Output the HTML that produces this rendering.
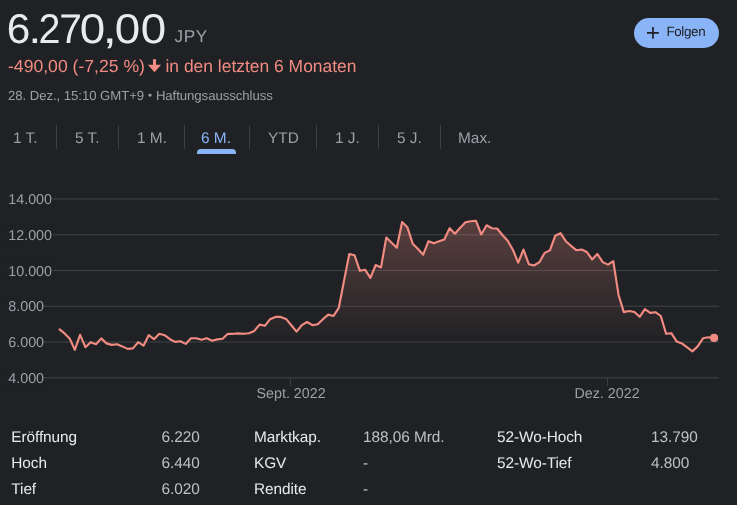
<!DOCTYPE html>
<html lang="de">
<head>
<meta charset="utf-8">
<title>Kursverlauf</title>
<style>
*{margin:0;padding:0;box-sizing:border-box}
html,body{width:737px;height:505px;background:#202124;overflow:hidden}
body{position:relative;font-family:"Liberation Sans",sans-serif;color:#e8eaed;text-rendering:geometricPrecision}
.abs{position:absolute;white-space:nowrap;line-height:1}
.price{left:0;top:8px;font-size:41.6px;color:#e8eaed;width:180px;height:40px}
.price span{display:inline-block;transform-origin:50% 50%}
.cur{left:174.6px;top:28px;font-size:17.2px;color:#9aa0a6;letter-spacing:0.6px}
.chg{left:8px;top:58px;font-size:17.6px;color:#f28b82}
.chg2{left:165.5px;top:58px;font-size:17.45px;color:#f28b82}
.arrow{position:absolute;left:147px;top:58px}
.time{left:8px;top:89px;font-size:13.2px;color:#9aa0a6;letter-spacing:-0.065px}
.time b{font-weight:normal;display:inline-block;width:4.6px;text-align:center;font-size:11.5px;vertical-align:0.8px;letter-spacing:0}
.follow{left:634px;top:18px;width:85px;height:30px;border-radius:15px;background:#8ab4f8;color:#202124;font-size:13.4px;letter-spacing:-0.35px}
.follow svg{position:absolute;left:13px;top:9px}
.follow span{position:absolute;left:32.4px;top:7px;transform:translateY(0.2px)}
.tab{top:131px;font-size:15.4px;color:#9aa0a6;letter-spacing:0}
.tab.sel{color:#8ab4f8}
.sep{position:absolute;top:125px;width:1px;height:24px;background:#3c4043}
.ul{position:absolute;left:197px;top:149px;width:39px;height:5px;background:#8ab4f8;border-radius:4px 4px 0 0}
svg.chart{position:absolute;left:0;top:0}
svg.chart text{font-family:"Liberation Sans",sans-serif;font-size:14.3px;fill:#9aa0a6;letter-spacing:0;text-rendering:geometricPrecision}
.k{font-size:15.4px;color:#e8eaed;letter-spacing:-0.08px}
.v{font-size:15.4px;color:#bdc1c6;letter-spacing:-0.05px}
</style>
</head>
<body>
<div class="abs price"><span style="margin-left:7.43px;transform:scaleX(1.02)">6</span><span style="margin-left:-1.95px;transform:scaleX(1.1)">.</span><span style="margin-left:-2.05px;transform:scaleX(0.95)">2</span><span style="margin-left:-2.24px;transform:scaleX(0.98)">7</span><span style="margin-left:-0.79px;transform:scaleX(1.1)">0</span><span style="margin-left:-0.30px;transform:scaleX(1.25)">,</span><span style="margin-left:0.15px;transform:scaleX(1.1)">0</span><span style="margin-left:2.51px;transform:scaleX(1.1)">0</span></div>
<div class="abs cur">JPY</div>
<div class="abs chg">-490,00 (-7,25 %)</div>
<svg class="arrow" width="16" height="16" viewBox="0 0 16 16"><path d="M5.95 1.25h3.1v5.5h5.05L7.5 14.35 0.9 6.75h5.05z" fill="#f28b82"/></svg>
<div class="abs chg2">in den letzten 6 Monaten</div>
<div class="abs time">28. Dez., 15:10 GMT+9 <b>•</b> Haftungsausschluss</div>
<div class="abs follow"><svg width="12" height="12" viewBox="0 0 12 12"><path d="M5.1 0h1.7v5H11.8v1.7H6.8v5.1H5.1V6.7H0V5h5.1z" fill="#202124"/></svg><span>Folgen</span></div>

<div class="abs tab" style="left:13px">1 T.</div><div class="sep" style="left:56px"></div>
<div class="abs tab" style="left:75px">5 T.</div><div class="sep" style="left:118px"></div>
<div class="abs tab" style="left:137px">1 M.</div><div class="sep" style="left:184px"></div>
<div class="abs tab sel" style="left:201px">6 M.</div><div class="sep" style="left:249px"></div>
<div class="ul"></div>
<div class="abs tab" style="left:268px">YTD</div><div class="sep" style="left:316px"></div>
<div class="abs tab" style="left:335px">1 J.</div><div class="sep" style="left:378px"></div>
<div class="abs tab" style="left:397px">5 J.</div><div class="sep" style="left:440px"></div>
<div class="abs tab" style="left:458px">Max.</div>

<svg class="chart" width="737" height="420" viewBox="0 0 737 420">
<defs><linearGradient id="g" x1="0" y1="220" x2="0" y2="342" gradientUnits="userSpaceOnUse">
<stop offset="0" stop-color="#f28b82" stop-opacity="0.28"/>
<stop offset="1" stop-color="#f28b82" stop-opacity="0"/>
</linearGradient></defs>
<rect x="0" y="198.425" width="719" height="1.15" fill="#3c4043"/><rect x="0" y="234.185" width="719" height="1.15" fill="#3c4043"/><rect x="0" y="269.945" width="719" height="1.15" fill="#3c4043"/><rect x="0" y="305.705" width="719" height="1.15" fill="#3c4043"/><rect x="0" y="341.465" width="719" height="1.15" fill="#3c4043"/><rect x="0" y="377.225" width="719" height="1.15" fill="#3c4043"/>
<rect x="0" y="191.0" width="52.7" height="16" fill="#202124"/><text x="8.3" y="204">14.000</text><rect x="0" y="226.8" width="52.7" height="16" fill="#202124"/><text x="8.3" y="240">12.000</text><rect x="0" y="262.5" width="52.7" height="16" fill="#202124"/><text x="8.3" y="276">10.000</text><rect x="0" y="298.3" width="43.8" height="16" fill="#202124"/><text x="8.3" y="311">8.000</text><rect x="0" y="334.0" width="43.8" height="16" fill="#202124"/><text x="8.3" y="347">6.000</text><rect x="0" y="369.8" width="43.8" height="16" fill="#202124"/><text x="8.3" y="383">4.000</text>
<rect x="290" y="378" width="1" height="8" fill="#3c4043"/>
<rect x="607" y="378" width="1" height="8" fill="#3c4043"/>
<text x="291.1" y="398" text-anchor="middle">Sept. 2022</text>
<text x="607" y="398" text-anchor="middle">Dez. 2022</text>
<path d="M59.0 328.8 L64.3 333.2 L69.6 338.4 L74.8 349.9 L80.1 334.8 L85.4 347.2 L90.7 342.2 L96.0 344.2 L101.2 338.4 L106.5 343.4 L111.8 344.9 L117.1 344.2 L122.3 346.4 L127.6 348.9 L132.9 348.4 L138.2 342.2 L143.5 345.7 L148.7 335.2 L154.0 339.2 L159.3 333.8 L164.6 335.2 L169.9 339.2 L175.1 341.9 L180.4 341.2 L185.7 343.9 L191.0 338.2 L196.2 338.2 L201.5 339.8 L206.8 338.2 L212.1 340.8 L217.4 339.4 L222.6 338.8 L227.9 333.8 L233.2 333.8 L238.5 333.4 L243.8 333.8 L249.0 333.2 L254.3 330.9 L259.6 324.6 L264.9 325.8 L270.1 319.2 L275.4 316.9 L280.7 316.9 L286.0 318.9 L291.3 325.2 L296.5 331.6 L301.8 325.2 L307.1 322.0 L312.4 325.2 L317.7 324.3 L322.9 319.3 L328.2 314.6 L333.5 316.0 L338.8 307.8 L344.0 280.9 L349.3 254.0 L354.6 255.3 L359.9 270.8 L365.2 269.8 L370.4 277.9 L375.7 265.0 L381.0 267.4 L386.3 237.5 L391.6 242.8 L396.8 247.8 L402.1 222.0 L407.4 227.3 L412.7 243.7 L418.0 249.0 L423.2 254.7 L428.5 241.2 L433.8 243.3 L439.1 241.2 L444.3 239.5 L449.6 228.2 L454.9 233.7 L460.2 227.8 L465.5 222.3 L470.7 221.3 L476.0 220.8 L481.3 234.5 L486.6 225.3 L491.9 228.2 L497.1 228.5 L502.4 235.0 L507.7 240.8 L513.0 250.0 L518.2 262.7 L523.5 249.5 L528.8 264.2 L534.1 265.5 L539.4 262.2 L544.6 252.9 L549.9 250.4 L555.2 235.8 L560.5 233.2 L565.8 241.2 L571.0 245.8 L576.3 250.2 L581.6 249.5 L586.9 252.0 L592.1 259.4 L597.4 254.0 L602.7 262.1 L608.0 264.6 L613.3 261.2 L618.5 294.7 L623.8 312.1 L629.1 311.0 L634.4 312.0 L639.7 316.8 L644.9 309.1 L650.2 312.9 L655.5 312.2 L660.8 316.0 L666.1 333.8 L671.3 333.2 L676.6 341.4 L681.9 343.4 L687.2 347.4 L692.4 351.4 L697.7 346.4 L703.0 338.3 L708.3 337.3 L713.6 338.1 L713.6 378 L59.0 378 Z" fill="url(#g)"/>
<path d="M59.0 328.8 L64.3 333.2 L69.6 338.4 L74.8 349.9 L80.1 334.8 L85.4 347.2 L90.7 342.2 L96.0 344.2 L101.2 338.4 L106.5 343.4 L111.8 344.9 L117.1 344.2 L122.3 346.4 L127.6 348.9 L132.9 348.4 L138.2 342.2 L143.5 345.7 L148.7 335.2 L154.0 339.2 L159.3 333.8 L164.6 335.2 L169.9 339.2 L175.1 341.9 L180.4 341.2 L185.7 343.9 L191.0 338.2 L196.2 338.2 L201.5 339.8 L206.8 338.2 L212.1 340.8 L217.4 339.4 L222.6 338.8 L227.9 333.8 L233.2 333.8 L238.5 333.4 L243.8 333.8 L249.0 333.2 L254.3 330.9 L259.6 324.6 L264.9 325.8 L270.1 319.2 L275.4 316.9 L280.7 316.9 L286.0 318.9 L291.3 325.2 L296.5 331.6 L301.8 325.2 L307.1 322.0 L312.4 325.2 L317.7 324.3 L322.9 319.3 L328.2 314.6 L333.5 316.0 L338.8 307.8 L344.0 280.9 L349.3 254.0 L354.6 255.3 L359.9 270.8 L365.2 269.8 L370.4 277.9 L375.7 265.0 L381.0 267.4 L386.3 237.5 L391.6 242.8 L396.8 247.8 L402.1 222.0 L407.4 227.3 L412.7 243.7 L418.0 249.0 L423.2 254.7 L428.5 241.2 L433.8 243.3 L439.1 241.2 L444.3 239.5 L449.6 228.2 L454.9 233.7 L460.2 227.8 L465.5 222.3 L470.7 221.3 L476.0 220.8 L481.3 234.5 L486.6 225.3 L491.9 228.2 L497.1 228.5 L502.4 235.0 L507.7 240.8 L513.0 250.0 L518.2 262.7 L523.5 249.5 L528.8 264.2 L534.1 265.5 L539.4 262.2 L544.6 252.9 L549.9 250.4 L555.2 235.8 L560.5 233.2 L565.8 241.2 L571.0 245.8 L576.3 250.2 L581.6 249.5 L586.9 252.0 L592.1 259.4 L597.4 254.0 L602.7 262.1 L608.0 264.6 L613.3 261.2 L618.5 294.7 L623.8 312.1 L629.1 311.0 L634.4 312.0 L639.7 316.8 L644.9 309.1 L650.2 312.9 L655.5 312.2 L660.8 316.0 L666.1 333.8 L671.3 333.2 L676.6 341.4 L681.9 343.4 L687.2 347.4 L692.4 351.4 L697.7 346.4 L703.0 338.3 L708.3 337.3 L713.6 338.1" fill="none" stroke="#f28b82" stroke-width="2.15" stroke-linejoin="round" stroke-linecap="butt"/>
<circle cx="714.1" cy="337.95" r="4.1" fill="#f28b82"/>
</svg>

<div class="abs k" style="left:11.3px;top:430px">Eröffnung</div><div class="abs v" style="left:161.5px;top:430px">6.220</div>
<div class="abs k" style="left:11.3px;top:456px">Hoch</div><div class="abs v" style="left:161.5px;top:456px">6.440</div>
<div class="abs k" style="left:11.3px;top:482px">Tief</div><div class="abs v" style="left:161.5px;top:482px">6.020</div>
<div class="abs k" style="left:254px;top:430px">Marktkap.</div><div class="abs v" style="left:363px;top:430px">188,06 Mrd.</div>
<div class="abs k" style="left:254px;top:456px">KGV</div><div class="abs v" style="left:363px;top:456px">-</div>
<div class="abs k" style="left:254px;top:482px">Rendite</div><div class="abs v" style="left:363px;top:482px">-</div>
<div class="abs k" style="left:497px;top:430px">52-Wo-Hoch</div><div class="abs v" style="left:651px;top:430px">13.790</div>
<div class="abs k" style="left:497px;top:456px">52-Wo-Tief</div><div class="abs v" style="left:651px;top:456px">4.800</div>
</body>
</html>
